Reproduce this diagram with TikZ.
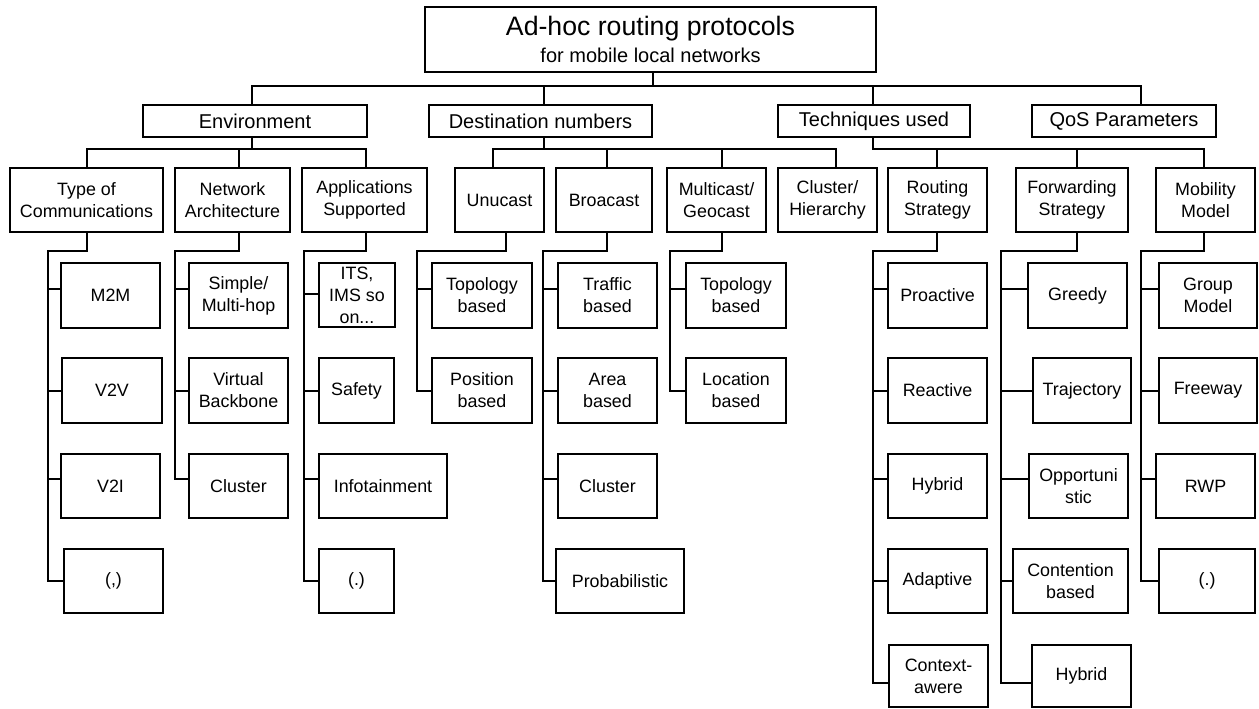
\documentclass[tikz,border=0pt]{standalone}
\usepackage{fontspec}
\setmainfont{Liberation Sans}
\tikzset{
  box/.style={draw, line width=1.6pt, inner sep=0pt, align=center},
  small/.style={font=\fontsize{13.4}{16.5}\selectfont},
  mid/.style={font=\fontsize{15}{18}\selectfont},
  conn/.style={line width=1.6pt},
}
\newcommand\bx[7][small]{%
  \pgfmathsetmacro\bxcx{(#3+#5)/2}%
  \pgfmathsetmacro\bxcy{(#4+#6)/2}%
  \pgfmathsetmacro\bxww{(#5-#3)*0.75}%
  \pgfmathsetmacro\bxhh{(#6-#4)*0.75}%
  \node[box,#1,minimum width=\bxww pt,minimum height=\bxhh pt] (#2) at (\bxcx,\bxcy) {#7};}
\newcommand\spine[5]{%
  \draw[conn] (#1.south -| #2,0) -- (#2,251) -- (#3,251) -- (#3,#5) -- (#4.west |- 0,#5);}
\newcommand\tk[3]{\draw[conn] (#2,#3) -- (#1.west |- 0,#3);}
\begin{document}
\begin{tikzpicture}[x=0.75pt,y=-0.75pt]
\useasboundingbox[fill=white] (0,0) rectangle (1259,708);
% root
\bx{top}{425}{7}{876}{72}{}
\node[anchor=base,font=\fontsize{20}{24}\selectfont] (titleA) at (650.5,35) {Ad-hoc routing protocols};
\node[anchor=base,font=\fontsize{15}{18}\selectfont] (titleB) at (650.5,62) {for mobile local networks};
% level 2
\bx[mid]{env}{143}{105}{367}{137}{Environment}
\bx[mid]{dest}{429}{105}{652}{137}{Destination numbers}
\bx[mid]{tech}{778}{105}{970}{137}{Techniques used}
\bx[mid]{qos}{1032}{105}{1216}{137}{QoS Parameters}
% level 3
\bx{toc}{10}{168}{163}{232}{Type of\\Communications}
\bx{net}{175}{168}{290}{232}{Network\\Architecture}
\bx{app}{302}{168}{427}{232}{Applications\\Supported}
\bx{uni}{455}{168}{544}{232}{Unucast}
\bx{bro}{556}{168}{652}{232}{Broacast}
\bx{mul}{667}{168}{766}{232}{Multicast/\\Geocast}
\bx{clh}{778}{168}{877}{232}{Cluster/\\Hierarchy}
\bx{rou}{888}{168}{987}{232}{Routing\\Strategy}
\bx{fwd}{1016}{168}{1128}{232}{Forwarding\\Strategy}
\bx{mob}{1156}{168}{1255}{232}{Mobility\\Model}
% level 4: type of communications
\bx{m2m}{61}{263}{160}{328}{M2M}
\bx{v2v}{62}{358}{162}{423}{V2V}
\bx{v2i}{61}{454}{160}{518}{V2I}
\bx{tcom}{64}{549}{163}{613}{(,)}
% network architecture
\bx{simple}{189}{263}{288}{328}{Simple/\\Multi-hop}
\bx{virt}{189}{358}{288}{423}{Virtual\\Backbone}
\bx{ncl}{189}{454}{288}{518}{Cluster}
% applications
\bx{its}{319}{263}{395}{327}{ITS,\\IMS so\\on...}
\bx{safe}{319}{358}{394}{423}{Safety}
\bx{info}{319}{454}{447}{518}{Infotainment}
\bx{adot}{319}{549}{394}{613}{(.)}
% unicast
\bx{utop}{432}{263}{532}{328}{Topology\\based}
\bx{upos}{432}{358}{532}{423}{Position\\based}
% broadcast
\bx{btra}{558}{263}{657}{328}{Traffic\\based}
\bx{barea}{558}{358}{657}{423}{Area\\based}
\bx{bcl}{558}{454}{657}{518}{Cluster}
\bx{bprob}{556}{549}{684}{613}{Probabilistic}
% multicast
\bx{mtop}{686}{263}{786}{328}{Topology\\based}
\bx{mloc}{686}{358}{786}{423}{Location\\based}
% routing strategy
\bx{pro}{888}{263}{987}{328}{Proactive}
\bx{rea}{888}{358}{987}{423}{Reactive}
\bx{rhy}{888}{454}{987}{518}{Hybrid}
\bx{ada}{888}{549}{987}{613}{Adaptive}
\bx{ctx}{889}{645}{988}{707}{Context-\\awere}
% forwarding strategy
\bx{gre}{1028}{263}{1127}{328}{Greedy}
\bx{tra}{1033}{358}{1131}{423}{Trajectory}
\bx{opp}{1029}{454}{1128}{518}{Opportuni\\stic}
\bx{con}{1013}{549}{1128}{613}{Contention\\based}
\bx{fhy}{1032}{645}{1131}{707}{Hybrid}
% mobility model
\bx{grp}{1159}{263}{1257}{328}{Group\\Model}
\bx{fre}{1159}{358}{1257}{423}{Freeway}
\bx{rwp}{1156}{454}{1255}{518}{RWP}
\bx{mdot}{1159}{549}{1255}{613}{(.)}
% connectors level 1
\draw[conn] (top.south -| 653,0) -- (653,86);
\draw[conn] (env.north -| 252,0) -- (252,86) -- (1141,86) -- (qos.north -| 1141,0);
\draw[conn] (dest.north -| 544,0) -- (544,86);
\draw[conn] (tech.north -| 873,0) -- (873,86);
% connectors level 2
\draw[conn] (env.south -| 252,0) -- (252,149);
\draw[conn] (toc.north -| 87,0) -- (87,149) -- (366,149) -- (app.north -| 366,0);
\draw[conn] (net.north -| 239,0) -- (239,149);
\draw[conn] (dest.south -| 544,0) -- (544,149);
\draw[conn] (uni.north -| 493,0) -- (493,149) -- (836,149) -- (clh.north -| 836,0);
\draw[conn] (bro.north -| 607,0) -- (607,149);
\draw[conn] (mul.north -| 722,0) -- (722,149);
\draw[conn] (tech.south -| 873,0) -- (873,149) -- (1204,149) -- (mob.north -| 1204,0);
\draw[conn] (rou.north -| 937,0) -- (937,149);
\draw[conn] (fwd.north -| 1077,0) -- (1077,149);
% connectors level 3
\spine{toc}{87}{48}{tcom}{581}
\tk{m2m}{48}{289}\tk{v2v}{48}{391}\tk{v2i}{48}{479}
\spine{net}{239}{175}{ncl}{479}
\tk{simple}{175}{289}\tk{virt}{175}{391}
\spine{app}{366}{304}{adot}{581}
\tk{its}{304}{294}\tk{safe}{304}{391}\tk{info}{304}{479}
\spine{uni}{506}{417}{upos}{391}
\tk{utop}{417}{289}
\spine{bro}{607}{543}{bprob}{581}
\tk{btra}{543}{289}\tk{barea}{543}{391}\tk{bcl}{543}{479}
\spine{mul}{722}{670}{mloc}{391}
\tk{mtop}{670}{289}
\spine{rou}{937}{873}{ctx}{683}
\tk{pro}{873}{289}\tk{rea}{873}{391}\tk{rhy}{873}{479}\tk{ada}{873}{581}
\spine{fwd}{1077}{1001}{fhy}{683}
\tk{gre}{1001}{289}\tk{tra}{1001}{391}\tk{opp}{1001}{479}\tk{con}{1001}{581}
\spine{mob}{1204}{1141}{mdot}{581}
\tk{grp}{1141}{289}\tk{fre}{1141}{391}\tk{rwp}{1141}{479}
\end{tikzpicture}
\end{document}
